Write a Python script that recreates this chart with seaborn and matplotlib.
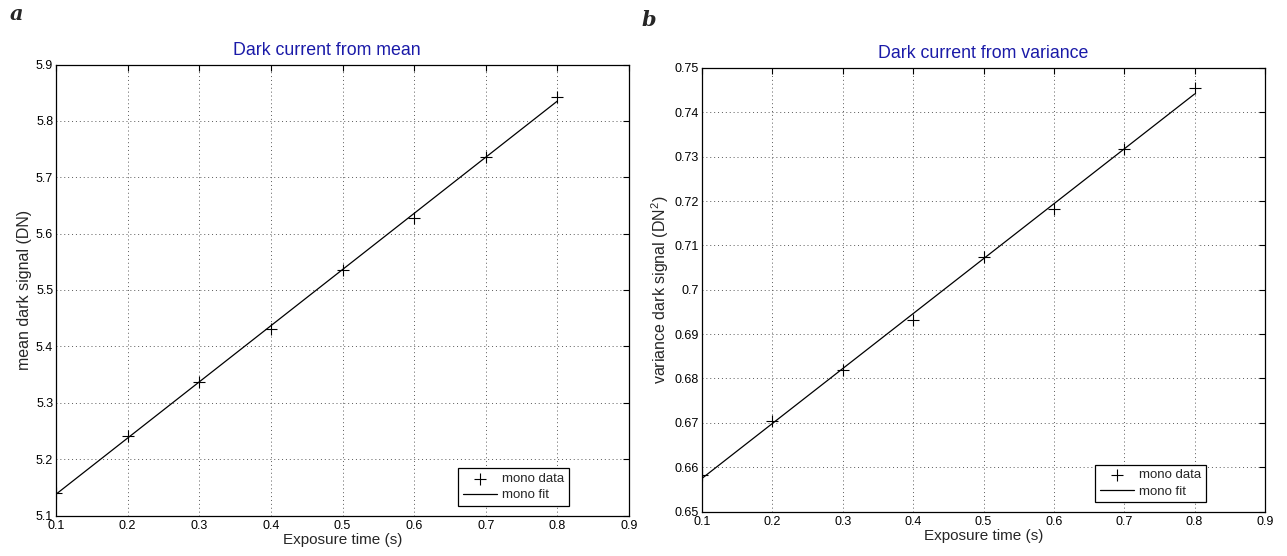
import matplotlib
matplotlib.use("Agg")
import matplotlib.pyplot as plt
import seaborn as sns
from matplotlib.ticker import FixedLocator, FuncFormatter

# Dark frame measurements versus exposure time
exposure_s = [0.1, 0.2, 0.3, 0.4, 0.5, 0.6, 0.7, 0.8]
mean_dark_dn = [5.1396, 5.2418, 5.3375, 5.4303, 5.5362, 5.6270, 5.7368, 5.8424]
var_dark_dn2 = [0.6583, 0.67045, 0.6818, 0.6931, 0.7073, 0.7183, 0.7318, 0.7454]

x_ticks = [0.1, 0.2, 0.3, 0.4, 0.5, 0.6, 0.7, 0.8, 0.9]
mean_ticks = [5.1, 5.2, 5.3, 5.4, 5.5, 5.6, 5.7, 5.8, 5.9]
var_ticks = [0.65, 0.66, 0.67, 0.68, 0.69, 0.70, 0.71, 0.72, 0.73, 0.74, 0.75]

sns.set_style("white")
plt.rcParams["font.family"] = ["Liberation Sans", "DejaVu Sans"]
plt.rcParams["mathtext.fontset"] = "custom"
plt.rcParams["mathtext.rm"] = "Liberation Sans"

TITLE_BLUE = "#1a1aa8"

fig = plt.figure(figsize=(12.87, 5.56), dpi=100)
W, H = 1287, 556


def px_axes(left, top, right, bottom):
    return fig.add_axes([left / W, 1 - bottom / H, (right - left) / W, (bottom - top) / H])


def g_fmt(v, _pos):
    return f"{v:g}"


def draw_panel(ax, y, yticks, title, ylabel, title_x=0.5):
    sns.scatterplot(x=exposure_s, y=y, ax=ax, marker="+", s=65, color="black",
                    linewidth=0.8, label="mono data", zorder=3)
    sns.regplot(x=exposure_s, y=y, ax=ax, scatter=False, ci=None, truncate=True,
                color="black", line_kws=dict(lw=0.9), label="mono fit")
    ax.set_xlim(x_ticks[0], x_ticks[-1])
    ax.set_ylim(yticks[0], yticks[-1])
    ax.xaxis.set_major_locator(FixedLocator(x_ticks))
    ax.yaxis.set_major_locator(FixedLocator(yticks))
    ax.xaxis.set_major_formatter(FuncFormatter(g_fmt))
    ax.yaxis.set_major_formatter(FuncFormatter(g_fmt))
    ax.tick_params(direction="in", length=4, width=0.8, top=True, right=True,
                   labelsize=9, colors="black")
    ax.tick_params(axis="x", pad=3)
    ax.tick_params(axis="y", pad=2)
    ax.grid(True, color="0.35", lw=0.7, linestyle=(0, (1, 3)))
    for sp in ax.spines.values():
        sp.set_color("black")
        sp.set_linewidth(0.9)
    ax.set_title(title, color=TITLE_BLUE, fontsize=12.8, pad=7, x=title_x)
    ax.set_xlabel("Exposure time (s)", fontsize=11, labelpad=1)
    ax.set_ylabel(ylabel, fontsize=11.5, labelpad=3)
    leg = ax.legend(loc="lower right", bbox_to_anchor=(0.895, 0.021), fontsize=9.5,
                    frameon=True, fancybox=False, framealpha=1, edgecolor="black",
                    handlelength=2.6, handletextpad=0.4, borderpad=0.35,
                    labelspacing=0.3, borderaxespad=0)
    leg.get_frame().set_linewidth(0.9)


ax_a = px_axes(56, 64.5, 629, 515.5)
draw_panel(ax_a, mean_dark_dn, mean_ticks, "Dark current from mean",
           "mean dark signal (DN)", title_x=0.472)

ax_b = px_axes(702, 68, 1265, 511.5)
draw_panel(ax_b, var_dark_dn2, var_ticks, "Dark current from variance",
           r"variance dark signal (DN$^2$)")

fig.text(16 / W, 1 - 14 / H, "a", family="DejaVu Serif", style="italic",
         weight="bold", fontsize=15, va="center", ha="center")
fig.text(649 / W, 1 - 20 / H, "b", family="DejaVu Serif", style="italic",
         weight="bold", fontsize=15, va="center", ha="center")

fig.savefig("out.png", dpi=100, facecolor="white")
